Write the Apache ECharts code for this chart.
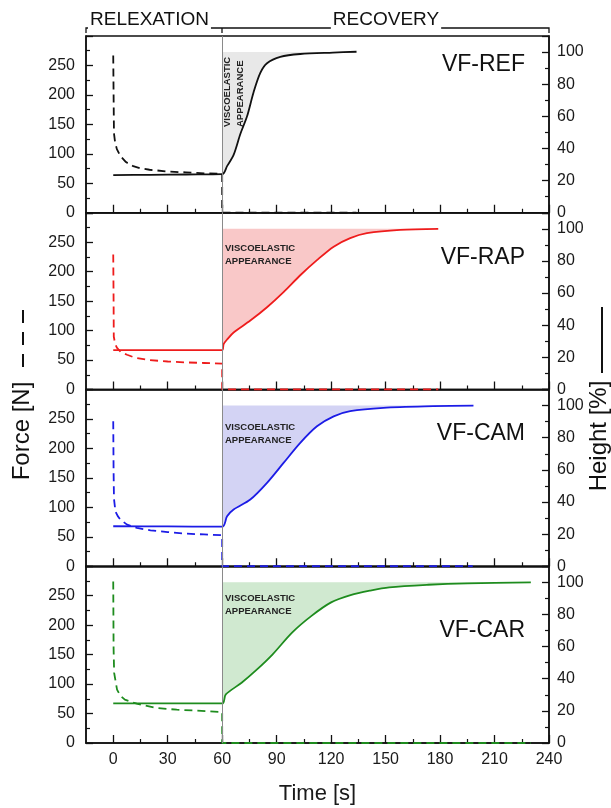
<!DOCTYPE html>
<html>
<head>
<meta charset="utf-8">
<script src="https://cdn.jsdelivr.net/npm/echarts@6/dist/echarts.min.js"></script>
<style>
  html, body { margin: 0; padding: 0; background: #fff; }
  #chart { width: 611px; height: 808px; }
  .t { width: 611px; height: 808px; position: absolute; left: -2000px; top: 0; }
</style>
</head>
<body>
<div id="chart"></div>
<script>
var panelNames = ['VF-REF', 'VF-RAP', 'VF-CAM', 'VF-CAR'];
var lineColors = ['#111111', '#ee1c1c', '#1c1ce6', '#1e8c1e'];
var fillColors = ['#e8e8e8', '#f9c8c8', '#d3d3f4', '#d0e9d0'];
var xMajorTicks = [0, 30, 60, 90, 120, 150, 180, 210, 240];
var xMinorTicks = [15, 45, 75, 105, 135, 165, 195, 225];

// force [N], dashed, left axis: [time s, force]
var forceREF = [[0, 267], [0.2, 200], [0.4, 135], [1, 120], [2, 108], [4, 96], [7, 86], [11, 79], [15, 75.5], [20, 73], [30, 70], [40, 68.5], [50, 67], [60, 66], [60, 0], [134, 0]];
var forceRAP = [[0, 229], [0.2, 150], [0.3, 90], [1, 78], [2, 71], [4, 64], [7.6, 59], [12, 54], [20, 50], [30, 47.5], [40, 46], [50, 45], [60, 44], [60, 0], [179, 0]];
var forceCAM = [[0, 246], [0.2, 160], [0.4, 115], [1.2, 93], [2.5, 85], [4, 79], [7.6, 70.7], [13, 65], [20.5, 61], [30, 58], [38.7, 55.5], [50, 54], [60, 52.6], [60, 0], [198, 0]];
var forceCAR = [[0, 274], [0.2, 160], [0.5, 119], [2.1, 90.5], [4, 80], [6.4, 73.5], [12.9, 66.7], [23.6, 59.4], [35, 56.5], [45, 55], [60, 52.6], [60, 0], [230, 0]];

// height [%], solid, right axis: [time s, height]
var heightREF = [[0, 23.4], [20, 23.6], [40, 23.8], [60, 24], [62.7, 29], [66.3, 36], [70, 49], [73.7, 60], [77.3, 75], [81, 87], [84.7, 93], [92, 97], [103, 98.8], [121, 99.7], [134, 100.2]];
var heightRAP = [[0, 24.5], [30, 24.5], [60, 24.5], [60.8, 28.2], [63, 31.5], [66.3, 35.5], [75.5, 42.9], [84.7, 51.2], [93.8, 60.6], [103, 71.1], [112.2, 80.5], [121.4, 88.9], [130.5, 94.2], [139.7, 97.3], [158, 99.4], [179, 100]];
var heightCAM = [[0, 24.9], [30, 24.8], [60, 24.6], [62.7, 31.1], [66.3, 35.3], [75.5, 41.5], [84.7, 51.9], [93.8, 64.3], [103, 76.8], [112.2, 87.1], [121.4, 93.3], [130.5, 96.5], [148.8, 98.6], [176.3, 99.6], [198.4, 100]];
var heightCAR = [[0, 24.6], [30, 24.6], [60, 24.6], [62, 30.2], [70.7, 37.5], [79.2, 45.8], [87.8, 55.2], [98.5, 68.7], [109.2, 79.1], [120, 87.5], [130.7, 92], [141.3, 94.8], [152, 96.9], [173.5, 98.5], [195, 99.4], [230, 100]];

var forceData = [forceREF, forceRAP, forceCAM, forceCAR];
var heightData = [heightREF, heightRAP, heightCAM, heightCAR];

var FONT = 'Liberation Sans';
var TOP = 36, PH = 176.75;
var labelOffsets = [29, 45, 44, 64];
var viscoOffsets = [0, 29, 31, 25.5];

function makeBase(f) {
    var grids = [], xAxes = [], yAxes = [], series = [];
    for (var i = 0; i < 4; i++) {
        var top = TOP + i * PH;
        grids.push({ left: 86, right: 62, top: top, height: PH, show: true, borderColor: '#111', borderWidth: 1.5 });
        var xa = {
            gridIndex: i, type: 'value', min: -15, max: 240, interval: 15, position: 'bottom',
            axisLine: { show: true, lineStyle: { color: '#111', width: 1.5 } },
            axisTick: { show: true, inside: true, length: 8, customValues: xMajorTicks, lineStyle: { color: '#111', width: 1.3 } },
            axisLabel: { show: i === 3, customValues: xMajorTicks, fontSize: 16, color: '#1a1a1a', margin: 9, fontFamily: FONT },
            splitLine: { show: false }
        };
        if (i === 3) { xa.name = 'Time [s]'; xa.nameLocation = 'middle'; xa.nameGap = 40; xa.nameTextStyle = { fontSize: 22, color: '#1a1a1a', fontFamily: FONT }; }
        xAxes.push(xa);
        // second x axis only for the minor ticks
        xAxes.push({
            gridIndex: i, type: 'value', min: -15, max: 240, interval: 15, position: 'bottom',
            axisLine: { show: false },
            axisTick: { show: true, inside: true, length: 4, customValues: xMinorTicks, lineStyle: { color: '#111', width: 1.2 } },
            axisLabel: { show: false }, splitLine: { show: false }
        });
        yAxes.push({
            gridIndex: i, type: 'value', position: 'left', min: 0, max: 300, interval: 50,
            axisLine: { show: true, onZero: false, lineStyle: { color: '#111', width: 1.5 } },
            axisTick: { show: true, inside: true, length: 7, lineStyle: { color: '#111', width: 1.3 } },
            minorTick: { show: true, splitNumber: 2, length: 4, lineStyle: { color: '#111', width: 1.2 } },
            axisLabel: { fontSize: 16, color: '#1a1a1a', margin: 11, fontFamily: FONT, showMaxLabel: false },
            splitLine: { show: false }
        });
        yAxes.push({
            gridIndex: i, type: 'value', position: 'right', min: 0, max: 110, interval: 20,
            axisLine: { show: true, onZero: false, lineStyle: { color: '#111', width: 1.5 } },
            axisTick: { show: true, inside: true, length: 7, lineStyle: { color: '#111', width: 1.3 } },
            minorTick: { show: true, splitNumber: 2, length: 4, lineStyle: { color: '#111', width: 1.2 } },
            axisLabel: { fontSize: 16, color: '#1a1a1a', margin: 8, fontFamily: FONT, showMaxLabel: false },
            splitLine: { show: false }
        });
        // shaded area between the recovery curve and 100 %
        var rec = heightData[i].filter(function (p) { return p[0] >= 60; });
        series.push({
            type: 'line', xAxisIndex: 2 * i, yAxisIndex: 2 * i + 1, data: rec, symbol: 'none', smooth: 0.3,
            lineStyle: { opacity: 0 }, areaStyle: { color: fillColors[i], opacity: 1, origin: 100 }, silent: true, z: f.lowFill ? -1 : 1
        });
        series.push({
            type: 'line', xAxisIndex: 2 * i, yAxisIndex: 2 * i + 1, data: heightData[i], symbol: 'none', smooth: 0.3,
            lineStyle: { color: lineColors[i], width: 1.8 }, silent: true, z: 3,
            markLine: { silent: true, symbol: 'none', label: { show: false }, lineStyle: { color: '#8a8a8a', width: 1, type: 'solid' }, data: [{ xAxis: 60 }] }
        });
        series.push({
            type: 'line', xAxisIndex: 2 * i, yAxisIndex: 2 * i, data: forceData[i], symbol: 'none',
            lineStyle: { color: lineColors[i], width: 1.8, type: [8, 5] }, silent: true, z: 4
        });
    }
    return { animation: false, grid: grids, xAxis: xAxes, yAxis: yAxes, series: series };
}

function T(x, y, text, font, align, valign, extra) {
    var el = { type: 'text', x: x, y: y, style: { text: text, font: font, fill: '#111', align: align, verticalAlign: valign } };
    if (extra) for (var k in extra) { if (k === 'style') { for (var s in extra.style) el.style[s] = extra.style[s]; } else el[k] = extra[k]; }
    return el;
}
var gHeaderLines = [
    { type: 'polyline', shape: { points: [[86, 33], [86, 28], [549, 28], [549, 33]] }, style: { stroke: '#111', lineWidth: 1.3, fill: null } },
    { type: 'line', shape: { x1: 222, y1: 28, x2: 222, y2: 33 }, style: { stroke: '#111', lineWidth: 1.3 } }
];
var gHeaderText = [
    T(88, 20, 'RELEXATION', '19px Liberation Sans', 'left', 'middle', { style: { backgroundColor: '#fff', padding: [1, 2] } }),
    T(386, 20, 'RECOVERY', '19px Liberation Sans', 'center', 'middle', { style: { backgroundColor: '#fff', padding: [1, 2] } })
];
var gTitleText = [
    T(22, 431, 'Force [N]', '24px Liberation Sans', 'center', 'middle', { rotation: Math.PI / 2 }),
    T(599, 436, 'Height [%]', '24px Liberation Sans', 'center', 'middle', { rotation: Math.PI / 2 })
];
var gTitleLines = [
    { type: 'line', shape: { x1: 23, y1: 367, x2: 23, y2: 310 }, style: { stroke: '#111', lineWidth: 2, lineDash: [13, 9] } },
    { type: 'line', shape: { x1: 602, y1: 373, x2: 602, y2: 307 }, style: { stroke: '#111', lineWidth: 2 } }
];
var gPanels = [], gVisco0 = [], gVisco = [];
for (var j = 0; j < 4; j++) {
    gPanels.push(T(525, TOP + j * PH + labelOffsets[j], panelNames[j], '23px Liberation Sans', 'right', 'middle'));
    if (j === 0) gVisco0.push(T(221.5, 127, 'VISCOELASTIC\nAPPEARANCE', 'bold 9.5px Liberation Sans', 'left', 'top', { rotation: Math.PI / 2, style: { lineHeight: 12.5, fill: '#222' } }));
    else gVisco.push(T(225, TOP + j * PH + viscoOffsets[j], 'VISCOELASTIC\nAPPEARANCE', 'bold 9.5px Liberation Sans', 'left', 'top', { style: { lineHeight: 13, fill: '#222' } }));
}

// render each part once off-screen first and keep only what draws cleanly
function check(base, extra) {
    var d = document.createElement('div'); d.className = 't'; document.body.appendChild(d);
    var c;
    try { c = echarts.init(d); c.setOption(base); if (extra) c.setOption(extra); c.getZr().refreshImmediately(); c.dispose(); return true; }
    catch (e) { try { c.dispose(); } catch (e2) {} return false; }
}
var baseVariants = [{ lowFill: true }, {}];
var chosen = null;
baseVariants.forEach(function (f) { if (check(makeBase(f)) && !chosen) chosen = f; });
var empty = { animation: false, xAxis: { type: 'value' }, yAxis: { type: 'value' }, series: [] };
var groups = [gHeaderLines, gHeaderText, gTitleText, gTitleLines, gPanels, gVisco0, gVisco];
var els = [];
groups.forEach(function (g) { if (check(empty, { graphic: { elements: g } })) els = els.concat(g); });

var chart = echarts.init(document.getElementById('chart'));
try {
    chart.setOption(makeBase(chosen || {}));
    chart.setOption({ graphic: { elements: els } });
    chart.getZr().refreshImmediately();
} catch (e) {
    chart.dispose();
    chart = echarts.init(document.getElementById('chart'));
    chart.setOption(makeBase({}));
}
</script>
</body>
</html>
